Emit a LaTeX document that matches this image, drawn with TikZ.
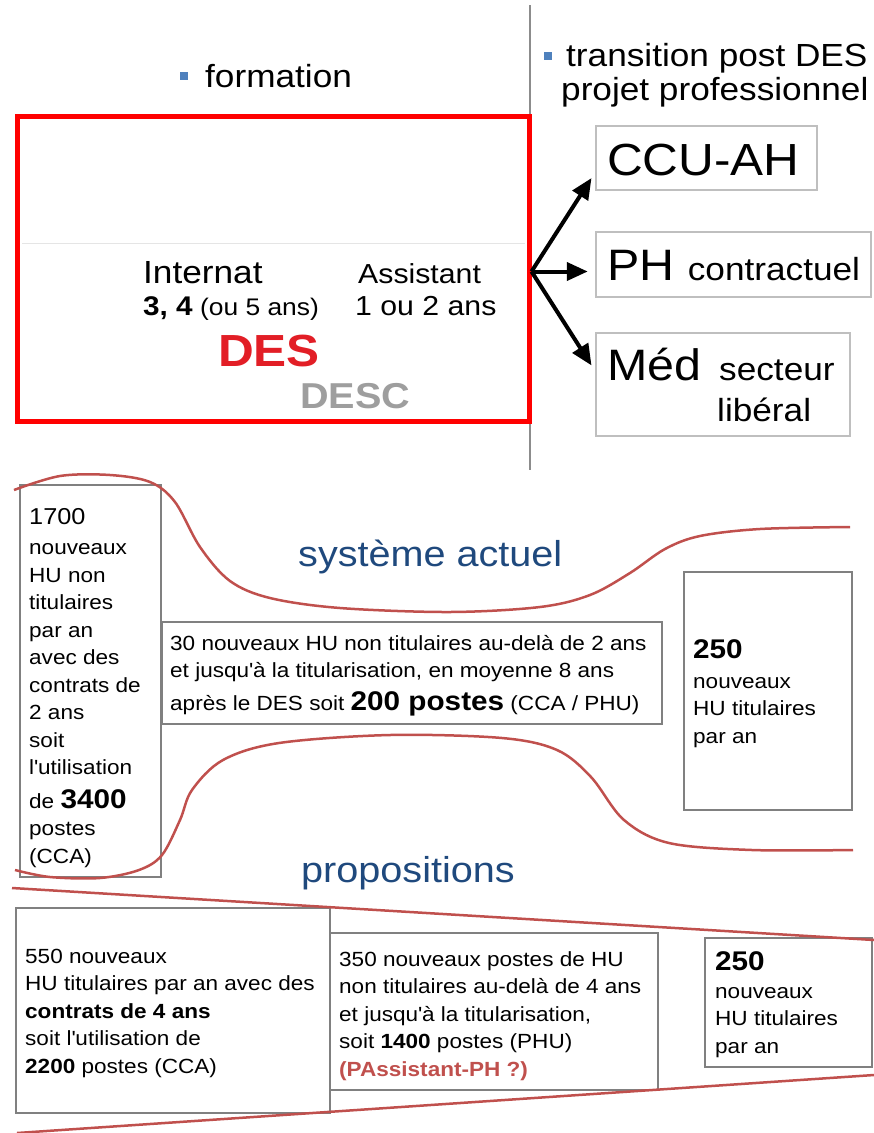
\documentclass[tikz,border=0pt]{standalone}
\usepackage{fontspec}
\setmainfont{Liberation Sans}[FakeStretch=1.1]
\usetikzlibrary{arrows.meta,positioning}
\definecolor{bulblue}{RGB}{79,129,189}
\definecolor{titblue}{RGB}{31,73,125}
\definecolor{curvered}{RGB}{192,80,77}
\definecolor{desred}{RGB}{226,30,38}
\newcommand\fsz[2]{\fontsize{#1}{#2}\selectfont}

\begin{document}
\begin{tikzpicture}[
  x=1pt, y=-1pt,
  txt/.style={inner sep=0pt, align=left, anchor=base west},
  optbox/.style={draw=black!25, line width=2.5pt},
  numbox/.style={draw=black!50, line width=1.3pt},
  flow/.style={-{Triangle[length=21pt,width=18pt]}, line width=4pt},
  bound/.style={curvered, line width=2.5pt},
  bullet/.style={fill=bulblue, inner sep=0pt, minimum size=8pt}
]
\useasboundingbox (0,0) rectangle (874,1133);

% partie haute : formation / transition
\draw[black!45, line width=1.5pt] (530,5) -- (530,470);

\node[bullet] (bform) at (184,76) {};
\node[txt, font=\fsz{32}{38}] (form) at (205,87) {formation};

\draw[black!10, line width=1pt] (22,243) -- (525,243);
\node[draw=red, line width=5pt, minimum width=512pt, minimum height=305pt] (des) at (273,268.5) {};

\node[txt, font=\fsz{32}{38}] (intern) at (143,283) {Internat};
\node[txt, font=\fsz{24}{30}] (intdur) at (143,315) {{\fsz{27}{30}\bfseries 3, 4} (ou 5 ans)};
\node[txt, font=\fsz{27.5}{32}] (assist) at (358,283) {Assistant};
\node[txt, font=\fsz{27.5}{32}] (assdur) at (355,315) {1 ou 2 ans};
\node[txt, font=\fsz{45}{50}\bfseries, text=desred] (deslbl) at (218,366) {DES};
\node[txt, font=\fsz{36}{40}\bfseries, text=black!38] (desc) at (300,408) {DESC};

\node[bullet] (btrans) at (548,56) {};
\node[txt, font=\fsz{32}{35}] (trans) at (566,66) {transition post DES};
\node[txt, font=\fsz{32}{35}] (projet) at (561,100) {projet professionnel};

\node[optbox, minimum width=221pt, minimum height=64pt] (ccu) at (706.5,158) {};
\node[txt, font=\fsz{45}{50}] (ccut) at (607,175) {CCU-AH};
\node[optbox, minimum width=275pt, minimum height=65pt] (ph) at (733.5,264.5) {};
\node[txt, font=\fsz{44}{50}] (pht) at (607,280) {PH {\fsz{32}{35}contractuel}};
\node[optbox, minimum width=254pt, minimum height=103pt] (med) at (723,384.5) {};
\node[txt, font=\fsz{44}{50}] (medt) at (607,380) {Méd};
\node[txt, font=\fsz{32}{35}] (sect) at (719,380) {secteur};
\node[txt, font=\fsz{32}{35}] (lib) at (717,421) {libéral};

\draw[flow, shorten >=6pt] ([yshift=-3pt]des.east) -- ([yshift=-15pt]ccu.west);
\draw[flow, shorten >=7pt] ([yshift=-3pt]des.east) -- ([yshift=-7pt]ph.west);
\draw[flow, shorten >=6pt] ([yshift=-3pt]des.east) -- ([yshift=14pt]med.west);

% systeme actuel
\node[numbox, minimum width=141pt, minimum height=392pt] (cur1) at (90.5,681) {};
\node[txt, font=\fsz{20.5}{27.5}] (cur1t) at (29,863)
  {{\fsz{23}{27.5}1700}\\[3pt] nouveaux\\ HU non\\ titulaires\\ par an\\ avec des\\
   contrats de\\ 2 ans\\ soit\\ l\textquotesingle utilisation\\[6pt] de {\fsz{27}{30}\bfseries 3400}\\ postes\\ (CCA)};
\node[numbox, minimum width=500pt, minimum height=102pt] (cur2) at (412,673) {};
\node[txt, font=\fsz{20.5}{27.5}] (cur2t) at (170,710)
  {30 nouveaux HU non titulaires au-delà de 2 ans\\ et jusqu\textquotesingle à la titularisation, en moyenne 8 ans\\[5pt]
   après le DES soit {\fsz{27}{30}\bfseries 200 postes} (CCA / PHU)};
\node[numbox, minimum width=168pt, minimum height=238pt] (cur3) at (768,691) {};
\node[txt, font=\fsz{20.5}{27.5}] (cur3t) at (693,743)
  {{\fsz{27}{30}\bfseries 250}\\[2pt] nouveaux\\ HU titulaires\\ par an};

\node[txt, font=\fsz{36}{40}, text=titblue] (actuel) at (298,566) {système actuel};

\draw[bound] plot[smooth, tension=0.55] coordinates {(14,490) (60,476) (110,475) (150,482)
  (175,502) (200,547) (230,581) (270,598) (340,608) (450,612) (540,607) (590,595)
  (630,573) (665,549) (700,536) (760,529) (850,527)};
\draw[bound] plot[smooth, tension=0.55] coordinates {(15,870) (50,877) (100,878) (139,870)
  (162,855) (180,820) (192,790) (223,760) (279,743) (390,735) (502,738) (557,750)
  (591,777) (624,820) (669,843) (752,850) (853,850)};

% propositions
\node[txt, font=\fsz{36}{40}, text=titblue] (propo) at (301,882) {propositions};

\node[numbox, minimum width=314pt, minimum height=205pt] (prop1) at (173,1010.5) {};
\node[txt, font=\fsz{20.5}{27.5}] (prop1t) at (25,1073)
  {550 nouveaux\\ HU titulaires par an avec des\\ \textbf{contrats de 4 ans}\\
   soit l\textquotesingle utilisation de\\ \textbf{2200} postes (CCA)};
\node[numbox, minimum width=328pt, minimum height=157pt] (prop2) at (494,1011.5) {};
\node[txt, font=\fsz{20.5}{27.5}] (prop2t) at (339,1076)
  {350 nouveaux postes de HU\\ non titulaires au-delà de 4 ans\\ et jusqu\textquotesingle à la titularisation,\\
   soit \textbf{1400} postes (PHU)\\ {\bfseries\color{curvered}(PAssistant-PH ?)}};
\node[numbox, minimum width=167pt, minimum height=129pt] (prop3) at (788.5,1002.5) {};
\node[txt, font=\fsz{20.5}{27.5}] (prop3t) at (715,1053)
  {{\fsz{27}{30}\bfseries 250}\\ nouveaux\\ HU titulaires\\ par an};

\draw[bound] (12,888) -- (874,940);
\draw[bound] (17,1133) -- (874,1075);
\end{tikzpicture}
\end{document}
